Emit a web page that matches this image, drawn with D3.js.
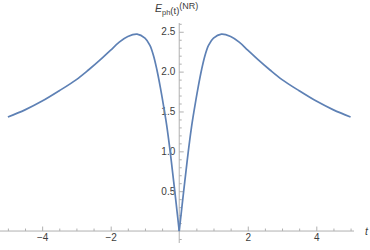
<!DOCTYPE html>
<html>
<head>
<meta charset="utf-8">
<script src="https://cdn.jsdelivr.net/npm/d3@7"></script>
<style>
    body { margin: 0; background: #fff; }
    svg { display: block; font-family: "Liberation Sans", Arial, sans-serif; }
</style>
</head>
<body>
<svg id="chart" width="370" height="250"></svg>
<script>
// values
const T_VALUES = [-5, -4.5, -4, -3.5, -3, -2.65, -2.3, -2, -1.75, -1.5, -1.23, -1, -0.855, -0.75, -0.655, -0.55, -0.43, -0.35, -0.265, -0.2, -0.13, -0.065, 0,
    0.065, 0.13, 0.2, 0.265, 0.35, 0.43, 0.55, 0.655, 0.75, 0.855, 1, 1.23, 1.5, 1.75, 2, 2.3, 2.65, 3, 3.5, 4, 4.5, 5];
const E_VALUES = [1.43, 1.52, 1.63, 1.76, 1.9, 2.02, 2.15, 2.27, 2.37, 2.44, 2.47, 2.42, 2.33, 2.2, 2.03, 1.8, 1.5, 1.28, 1.0, 0.76, 0.5, 0.25, 0,
    0.25, 0.5, 0.76, 1.0, 1.28, 1.5, 1.8, 2.03, 2.2, 2.33, 2.42, 2.47, 2.44, 2.37, 2.27, 2.15, 2.02, 1.9, 1.76, 1.63, 1.52, 1.43];
const X_MAJOR = [-4, -2, 2, 4];
const X_MINOR = [-5, -4.5, -3.5, -3, -2.5, -1.5, -1, -0.5, 0.5, 1, 1.5, 2.5, 3, 3.5, 4.5, 5];
const Y_MAJOR = [0.5, 1.0, 1.5, 2.0, 2.5];
const Y_MINOR = d3.range(-1, 27).map(i => i / 10).filter(v => Math.round(v * 10) % 5 !== 0);

const SVG = d3.select("#chart");
const AXIS_COLOR = "#b0b0b0";
const LABEL_COLOR = "#3d3d3d";

const x = d3.scaleLinear().domain([-5.23, 5.1]).range([0, 354]);
const y = d3.scaleLinear().domain([-0.15, 2.61]).range([243, 23]);

const points = T_VALUES.map((t, i) => ({ t, e: E_VALUES[i] }));

// axis lines
SVG.append("line")
    .attr("x1", x.range()[0]).attr("x2", x.range()[1])
    .attr("y1", y(0)).attr("y2", y(0))
    .attr("stroke", AXIS_COLOR);
SVG.append("line")
    .attr("x1", x(0)).attr("x2", x(0))
    .attr("y1", y.range()[0]).attr("y2", y.range()[1])
    .attr("stroke", AXIS_COLOR);

function styleAxis(g) {
    g.select(".domain").remove();
    g.selectAll(".tick line").attr("stroke", AXIS_COLOR);
    g.selectAll(".tick text").attr("fill", LABEL_COLOR).style("font-size", "10px").style("font-family", null);
}

// x ticks (pointing up)
SVG.append("g")
    .attr("transform", `translate(0,${y(0)})`)
    .call(d3.axisBottom(x).tickValues(X_MINOR).tickSizeInner(-2.5).tickSizeOuter(0).tickFormat(""))
    .call(styleAxis);
SVG.append("g")
    .attr("transform", `translate(0,${y(0)})`)
    .call(d3.axisBottom(x).tickValues(X_MAJOR).tickSizeInner(-4.5).tickSizeOuter(0).tickPadding(3).tickFormat(d3.format("d")))
    .call(styleAxis);

// y ticks (pointing right)
SVG.append("g")
    .attr("transform", `translate(${x(0)},0)`)
    .call(d3.axisLeft(y).tickValues(Y_MINOR).tickSizeInner(-2.5).tickSizeOuter(0).tickFormat(""))
    .call(styleAxis);
SVG.append("g")
    .attr("transform", `translate(${x(0)},0)`)
    .call(d3.axisLeft(y).tickValues(Y_MAJOR).tickSizeInner(-4.5).tickSizeOuter(0).tickPadding(4).tickFormat(d3.format(".1f")))
    .call(styleAxis);

// curve, drawn as two branches so the cusp at t = 0 stays sharp
const line = d3.line()
    .x(d => x(d.t))
    .y(d => y(d.e))
    .curve(d3.curveCatmullRom.alpha(0.5));

[points.filter(d => d.t <= 0), points.filter(d => d.t >= 0)].forEach(branch => {
    SVG.append("path")
        .datum(branch)
        .attr("d", line)
        .attr("fill", "none")
        .attr("stroke", "#5E81B5")
        .attr("stroke-width", 1.7)
        .attr("stroke-linejoin", "round");
});

// axis labels
SVG.append("text")
    .attr("x", 365)
    .attr("y", 235)
    .attr("fill", LABEL_COLOR)
    .style("font-size", "10.5px")
    .style("font-style", "italic")
    .text("t");

const yLabel = SVG.append("text")
    .attr("x", 155)
    .attr("y", 12)
    .attr("fill", LABEL_COLOR)
    .style("font-size", "10.5px");
yLabel.append("tspan").style("font-style", "italic").text("E");
yLabel.append("tspan").attr("dy", 2.5).style("font-size", "7.5px").text("ph");
yLabel.append("tspan").attr("dy", -1).style("font-size", "9.5px").text("(t)");
yLabel.append("tspan").attr("dy", -4.5).style("font-size", "9px").text("(NR)");
</script>
</body>
</html>
